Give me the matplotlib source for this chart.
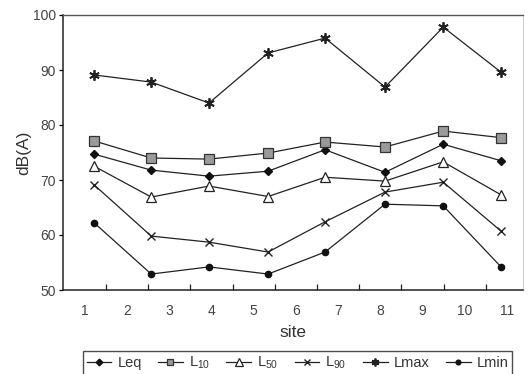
import matplotlib
matplotlib.use("Agg")
import matplotlib.pyplot as plt

plt.rcParams["font.family"] = ["Liberation Sans", "DejaVu Sans"]
plt.rcParams["mathtext.fontset"] = "custom"
plt.rcParams["mathtext.rm"] = "Liberation Sans"
plt.rcParams["mathtext.it"] = "Liberation Sans"

# measurement sites along the x axis
site_pos = [1.22, 2.57, 3.94, 5.34, 6.69, 8.11, 9.49, 10.86]

leq = [74.7, 71.8, 70.7, 71.6, 75.5, 71.4, 76.5, 73.5]
l10 = [77.1, 74.0, 73.8, 74.9, 76.9, 76.0, 78.9, 77.7]
l50 = [72.5, 66.9, 68.9, 67.0, 70.5, 69.8, 73.3, 67.3]
l90 = [69.1, 59.8, 58.7, 56.9, 62.4, 67.8, 69.6, 60.7]
lmax = [89.1, 87.8, 84.0, 93.1, 95.8, 86.9, 97.8, 89.6]
lmin = [62.2, 52.9, 54.2, 52.9, 56.9, 65.6, 65.3, 54.2]

xtick_labels = [str(i) for i in range(1, 12)]
yticks = [50, 60, 70, 80, 90, 100]

fig = plt.figure(figsize=(5.28, 3.74), dpi=100)
ax = fig.add_axes([63 / 528, 1 - 290 / 374, 460 / 528, 275 / 374])

lc = "#222222"
ax.plot(site_pos, leq, color=lc, lw=0.9, marker="D", ms=4.5,
        mfc="#111111", mec="#111111", label="Leq")
ax.plot(site_pos, l10, color=lc, lw=0.9, marker="s", ms=6.5,
        mfc="#9a9a9a", mec="#333333", mew=0.9, label=r"L$_{\mathrm{10}}$")
ax.plot(site_pos, l50, color=lc, lw=0.9, marker="^", ms=7,
        mfc="white", mec="#222222", mew=0.9, label=r"L$_{\mathrm{50}}$")
ax.plot(site_pos, l90, color=lc, lw=0.9, marker="x", ms=6,
        mec="#222222", mew=1.0, label=r"L$_{\mathrm{90}}$")
ax.plot(site_pos, lmax, color=lc, lw=0.9, marker=(6, 2, 0), ms=7.5,
        mec="#222222", mew=1.3, label="Lmax")
ax.plot(site_pos, lmin, color=lc, lw=0.9, marker="o", ms=4.5,
        mfc="#111111", mec="#111111", label="Lmin")

ax.set_xlim(0.48, 11.38)
ax.set_ylim(50, 100)

# labels sit on integers, tick marks between them
ax.set_xticks(range(1, 12))
ax.set_xticklabels(xtick_labels)
ax.set_xticks([i + 0.5 for i in range(1, 11)], minor=True)
ax.tick_params(axis="x", which="major", length=0, pad=10,
               labelsize=10, labelcolor="#444444")
ax.tick_params(axis="x", which="minor", direction="in", length=4,
               width=0.9, color="#222222")
ax.set_yticks(yticks)
ax.tick_params(axis="y", direction="out", length=3, width=0.9,
               labelsize=10, labelcolor="#444444", pad=2)

for side in ["left", "bottom"]:
    ax.spines[side].set_linewidth(1.1)
    ax.spines[side].set_color("#222222")
ax.spines["top"].set_linewidth(1.0)
ax.spines["top"].set_color("#555555")
ax.spines["right"].set_linewidth(0.8)
ax.spines["right"].set_color("#d0d0d0")

ax.set_xlabel("site", fontsize=12.5, color="#333333", labelpad=5)
ax.set_ylabel("dB(A)", fontsize=12.5, color="#333333", labelpad=1)

leg = ax.legend(loc="upper left", ncol=6, mode="expand",
                bbox_to_anchor=(83 / 528, 1 - 351 / 374 - 0.1, 429 / 528, 0.1),
                bbox_transform=fig.transFigure, frameon=True, fancybox=False,
                edgecolor="#222222", fontsize=10.5, handlelength=1.7,
                handletextpad=0.4, columnspacing=0.6, borderpad=0.25,
                borderaxespad=0, markerscale=0.75)
leg.get_frame().set_linewidth(1.0)
for t in leg.get_texts():
    t.set_color("#333333")

fig.savefig("out.png", dpi=100)
